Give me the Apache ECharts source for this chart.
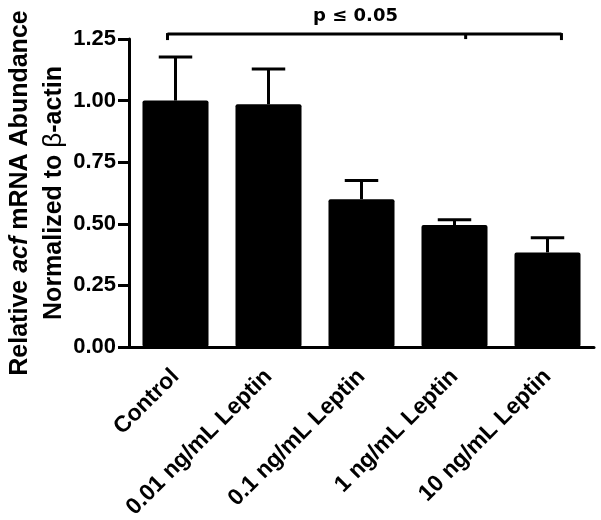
<!DOCTYPE html>
<html>
<head>
<meta charset="utf-8">
<script src="https://cdn.jsdelivr.net/npm/echarts@6/dist/echarts.min.js"></script>
<style>
html,body{margin:0;padding:0;background:#fff;}
#chart{width:601px;height:520px;}
</style>
</head>
<body>
<div id="chart"></div>
<script>
// ---- data ----
var categories = ['Control', '0.01 ng/mL Leptin', '0.1 ng/mL Leptin', '1 ng/mL Leptin', '10 ng/mL Leptin'];
var means = [1.00, 0.985, 0.60, 0.495, 0.384];
var errUpper = [1.177, 1.128, 0.676, 0.516, 0.443];
var yTicks = [0, 0.25, 0.5, 0.75, 1.0, 1.25];
var bracketCats = [0, 3, 4];
var bracketLevel = 1.27;
var bracketLabel = 'p \u2264 0.05';

var FONT = '"Liberation Sans", Arial, Helvetica, sans-serif';
var chart = echarts.init(document.getElementById('chart'));

var errData = means.map(function (m, i) { return [i, m, errUpper[i]]; });

chart.setOption({
  animation: false,
  backgroundColor: '#fff',
  grid: { left: 129, right: 7, top: 39, bottom: 173, containLabel: false, outerBoundsMode: 'none' },
  xAxis: {
    type: 'category',
    data: categories,
    axisLine: { lineStyle: { color: '#000', width: 3 } },
    axisTick: { alignWithLabel: true, length: 8, lineStyle: { color: '#000', width: 3 } },
    axisLabel: { rotate: 45, margin: 26, color: '#000', fontFamily: FONT, fontWeight: 'bold', fontSize: 23, interval: 0 }
  },
  yAxis: {
    type: 'value',
    min: yTicks[0],
    max: yTicks[yTicks.length - 1],
    interval: 0.25,
    splitLine: { show: false },
    axisLine: { show: true, lineStyle: { color: '#000', width: 3 } },
    axisTick: { show: true, length: 11, lineStyle: { color: '#000', width: 3 } },
    axisLabel: { margin: 13, color: '#000', fontFamily: FONT, fontWeight: 'bold', fontSize: 22,
      formatter: function (v) { return v.toFixed(2); } },
    name: 'Relative {i|acf} mRNA Abundance\nNormalized to {b|\u03B2}-actin',
    nameLocation: 'middle',
    nameRotate: 90,
    nameGap: 58,
    nameMoveOverlap: false,
    nameTextStyle: {
      color: '#000', fontFamily: FONT, fontWeight: 'bold', fontSize: 25, lineHeight: 34,
      rich: {
        i: { fontStyle: 'italic', fontWeight: 'bold', fontFamily: FONT, fontSize: 25, color: '#000', lineHeight: 34 },
        b: { fontWeight: 'normal', fontFamily: FONT, fontSize: 26, color: '#000', lineHeight: 34 }
      }
    }
  },
  series: [
    {
      type: 'bar',
      data: means,
      barWidth: '71%',
      itemStyle: { color: '#000', borderRadius: 2 },
      z: 2
    },
    {
      type: 'custom',
      data: errData,
      z: 3,
      renderItem: function (params, api) {
        var x = api.value(0);
        var p0 = api.coord([x, api.value(1)]);
        var p1 = api.coord([x, api.value(2)]);
        var half = api.size([1, 0])[0] * 0.18;
        var st = { stroke: '#000', lineWidth: 3 };
        return {
          type: 'group',
          children: [
            { type: 'line', shape: { x1: p0[0], y1: p0[1], x2: p1[0], y2: p1[1] }, style: st },
            { type: 'line', shape: { x1: p1[0] - half, y1: p1[1], x2: p1[0] + half, y2: p1[1] }, style: st }
          ]
        };
      }
    },
    {
      type: 'custom',
      data: [[bracketCats[0], bracketLevel]],
      z: 3,
      silent: true,
      clip: false,
      renderItem: function (params, api) {
        var bw = api.size([1, 0])[0];
        var a = api.coord([bracketCats[0], bracketLevel]);
        var m = api.coord([bracketCats[1], bracketLevel]);
        var b = api.coord([bracketCats[2], bracketLevel]);
        var xa = a[0] - 0.086 * bw, xm = m[0] + 0.12 * bw, xb = b[0] + 0.15 * bw;
        var y = a[1];
        var st = { stroke: '#000', lineWidth: 3 };
        var mid = api.coord([2, bracketLevel]);
        return {
          type: 'group',
          children: [
            { type: 'line', shape: { x1: xa, y1: y, x2: xb, y2: y }, style: st },
            { type: 'line', shape: { x1: xa, y1: y - 1, x2: xa, y2: y + 6 }, style: st },
            { type: 'line', shape: { x1: xm, y1: y - 1, x2: xm, y2: y + 5 }, style: st },
            { type: 'line', shape: { x1: xb, y1: y - 1, x2: xb, y2: y + 6 }, style: st },
            { type: 'text', style: { x: mid[0] - 6, y: y - 9, text: bracketLabel, fill: '#000',
              font: 'bold 18px "DejaVu Sans", Verdana, sans-serif', textAlign: 'center', textVerticalAlign: 'bottom' } }
          ]
        };
      }
    }
  ]
});
</script>
</body>
</html>
